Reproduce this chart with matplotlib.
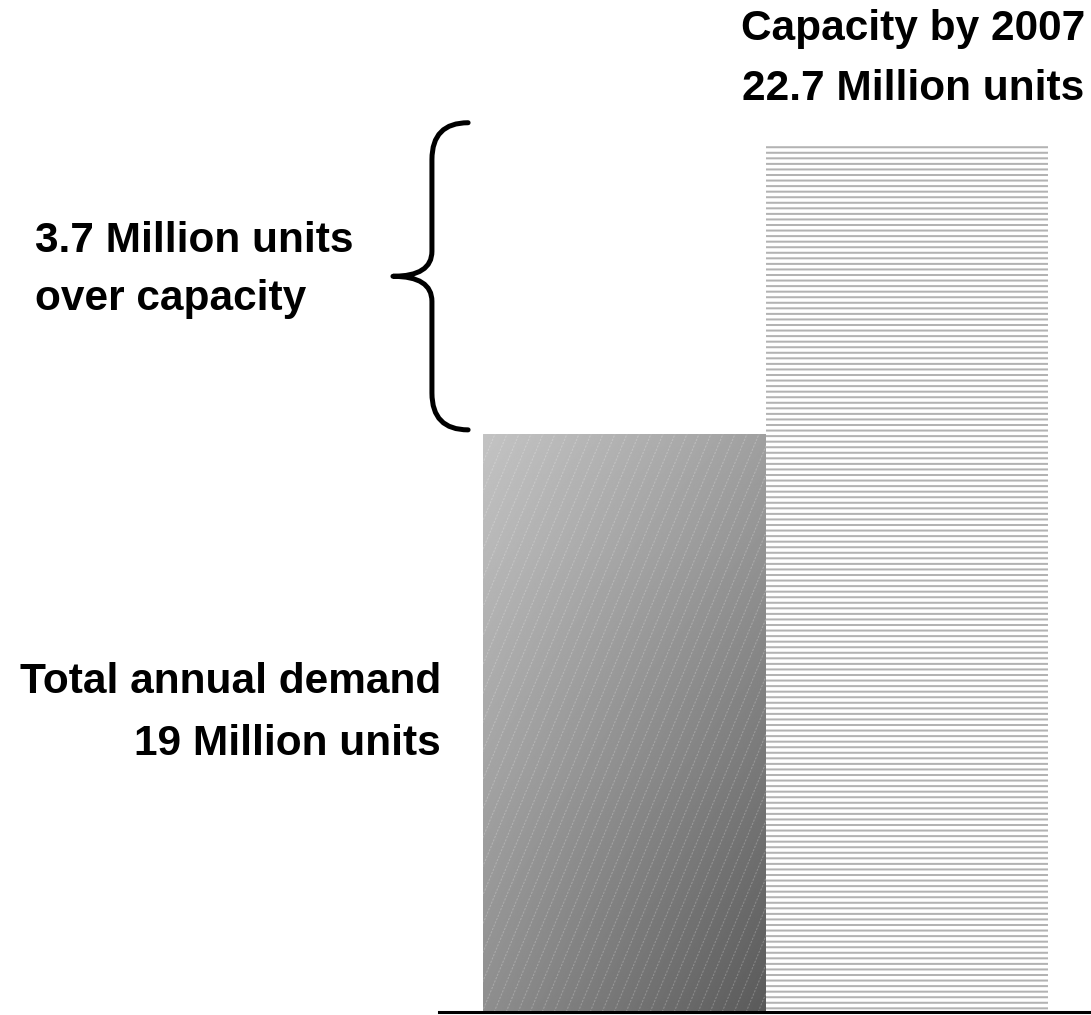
import numpy as np
import matplotlib.pyplot as plt
from matplotlib.path import Path
from matplotlib.patches import PathPatch
from matplotlib.collections import LineCollection

# Million units
categories = ["Total annual demand", "Capacity by 2007"]
values = [19.0, 22.7]
over_capacity = values[1] - values[0]

W, H, DPI = 1091, 1015, 100
STRIPE = "#b3b3b3"
FONT_SIZE = 30.5

plt.rcParams["font.family"] = ["Liberation Sans", "DejaVu Sans"]
plt.rcParams["hatch.linewidth"] = 1.45
plt.rcParams["hatch.color"] = STRIPE

fig = plt.figure(figsize=(W / DPI, H / DPI), dpi=DPI)
fig.patch.set_facecolor("white")

# Truncated value axis: the bars start well above zero
Y0 = 11.62
PX_PER_UNIT = 78.35
ax = fig.add_axes([439 / W, 3 / H, 652 / W, 1012 / H])
ax.set_xlim(-0.656, 1.652)
ax.set_ylim(Y0, Y0 + 1012 / PX_PER_UNIT)
ax.axis("off")

x = np.arange(len(values))
bars = ax.bar(x, values, width=1.0, linewidth=0, zorder=2)

# Demand bar: diagonal grey gradient, light top-left to dark bottom-right
demand = bars[0]
demand.set_facecolor("none")
corners = np.array([[195.0, 160.0], [142.0, 90.0]])
u = np.linspace(0, 1, 300)
uu, vv = np.meshgrid(u, u)
grad = (corners[0, 0] * (1 - uu) * (1 - vv) + corners[0, 1] * uu * (1 - vv)
        + corners[1, 0] * (1 - uu) * vv + corners[1, 1] * uu * vv)
bx0, bx1 = x[0] - 0.5, x[0] + 0.5
img = ax.imshow(grad, cmap="gray", vmin=0, vmax=255, origin="upper",
                extent=(bx0, bx1, Y0, values[0]), aspect="auto",
                interpolation="bilinear", zorder=1)
img.set_clip_path(demand)

# faint dotted diagonal texture over the gradient
slope = 2.4 * 282.5 / PX_PER_UNIT
run = (values[0] - Y0) / slope
starts = np.arange(bx0 - run, bx1, 12 / 282.5)
segs = [[(s, Y0), (s + run, values[0])] for s in starts]
tex = LineCollection(segs, colors=(1, 1, 1, 0.22), linewidths=0.8,
                     linestyles=(0, (2, 1.2)), zorder=3)
ax.add_collection(tex)
tex.set_clip_path(demand)

# Capacity bar: white with horizontal grey stripes
cap = bars[1]
cap.set_facecolor("white")
cap.set_edgecolor(STRIPE)
cap.set_linewidth(0)
cap.set_hatch("---")

# baseline rule
ax.axhline(Y0, xmin=0, xmax=1, color="black", linewidth=2.2, clip_on=False, zorder=5)

# curly brace spanning the over-capacity gap
xv, xe, xt = -0.681, -0.553, -0.819
b0, b1 = values[0] + 0.05, values[1] + 0.27
bm = (b0 + b1) / 2
r_end, r_mid = 0.47, 0.32
verts = [
    (xe, b1), (xv, b1), (xv, b1 - r_end),
    (xv, bm + r_mid),
    (xv, bm), (xt, bm),
    (xv, bm), (xv, bm - r_mid),
    (xv, b0 + r_end),
    (xv, b0), (xe, b0),
]
codes = [Path.MOVETO, Path.CURVE3, Path.CURVE3, Path.LINETO,
         Path.CURVE3, Path.CURVE3, Path.CURVE3, Path.CURVE3,
         Path.LINETO, Path.CURVE3, Path.CURVE3]
brace = PathPatch(Path(verts, codes), facecolor="none", edgecolor="black",
                  linewidth=3.6, capstyle="round", joinstyle="round",
                  clip_on=False, zorder=5)
ax.add_patch(brace)


def px(xp, yp):
    return xp / W, 1 - yp / H


txt = dict(fontsize=FONT_SIZE, fontweight="bold", color="black", va="baseline")
fig.text(*px(913, 40), categories[1], ha="center", **txt)
fig.text(*px(913, 100), f"{values[1]:.1f} Million units", ha="center", **txt)
fig.text(*px(35, 252), f"{over_capacity:.1f} Million units", ha="left", **txt)
fig.text(*px(35, 310), "over capacity", ha="left", **txt)
fig.text(*px(441, 693), categories[0], ha="right", **txt)
fig.text(*px(441, 755), f"{values[0]:.0f} Million units", ha="right", **txt)

fig.savefig("out.png", dpi=DPI, facecolor="white")
